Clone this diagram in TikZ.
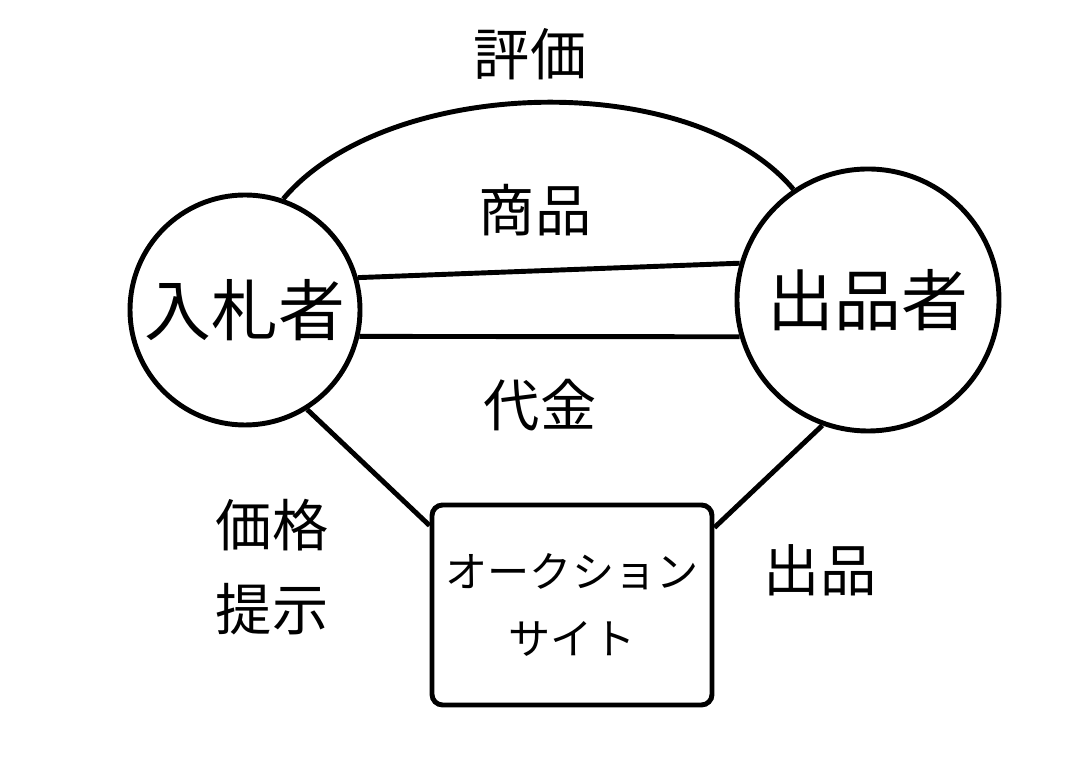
\documentclass[tikz,border=0pt]{standalone}
\usepackage{fontspec}
\setmainfont{Noto Sans CJK JP}
\usetikzlibrary{positioning}
\tikzset{
  party/.style={draw,circle,line width=1.4pt,inner sep=0pt,font=\fontsize{19}{24}\selectfont},
  site/.style={draw,line width=1.4pt,rounded corners=3pt,minimum width=2.8cm,minimum height=2cm,align=center,font=\fontsize{12}{19}\selectfont},
  link/.style={line width=1.4pt},
  lbl/.style={font=\fontsize{16}{24}\selectfont,align=center}
}
\begin{document}
\begin{tikzpicture}
  \useasboundingbox (0,0) rectangle (10.8,7.74);
  \node[party,minimum size=2.3cm] (bidder) at (2.45,4.64) {入札者};
  \node[party,minimum size=2.62cm] (seller) at (8.68,4.74) {出品者};
  \node[site] (auction) at (5.72,1.69) {オークション\\サイト};
  \draw[link] (bidder.71) to[out=50,in=130,looseness=0.8] (seller.124);
  \draw[link] (bidder.16) -- (seller.164);
  \draw[link] (bidder.-13) -- (seller.196);
  \draw[link] (bidder.-58) -- ([yshift=-0.23cm]auction.north west);
  \draw[link] (seller.250) -- ([yshift=-0.25cm]auction.north east);
  % labels
  \node[lbl] (rate) at (5.3,7.2) {評価};
  \node[lbl] (goods) at (5.35,5.64) {商品};
  \node[lbl] (money) at (5.4,3.69) {代金};
  \node[lbl] (price) at (2.72,2.07) {価格\\提示};
  \node[lbl] (listing) at (8.2,2.04) {出品};
\end{tikzpicture}
\end{document}
